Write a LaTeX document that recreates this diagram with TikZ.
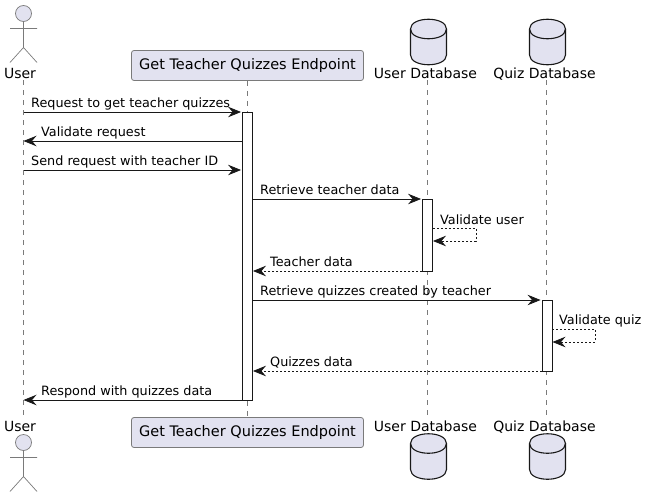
\documentclass[tikz,border=0pt]{standalone}
\usepackage{fontspec}
\setmainfont{DejaVu Sans}
\usetikzlibrary{arrows.meta}
\definecolor{pfill}{HTML}{E2E2F0}
\definecolor{pline}{HTML}{181818}
\definecolor{gline}{HTML}{7A7A7A}
\tikzset{
  x=1pt,y=-1pt,
  actorline/.style={draw=gline,fill=pfill,line width=0.7pt},
  dbline/.style={draw=pline,fill=pfill,line width=1.1pt},
  partbox/.style={draw=gline,fill=pfill,rounded corners=2.5pt,line width=0.8pt,minimum width=232pt,minimum height=30pt,inner sep=0pt,font=\fontsize{14.5}{16}\selectfont},
  head/.style={inner sep=0pt,font=\fontsize{14}{16}\selectfont,anchor=base},
  life/.style={draw=gline,line width=0.7pt,dash pattern=on 5pt off 5pt},
  bar/.style={draw=pline,fill=white,line width=0.9pt,minimum width=10pt,inner sep=0pt},
  msgtext/.style={inner sep=0pt,font=\fontsize{12.8}{15}\selectfont,anchor=base west,text=black},
  msg/.style={draw=pline,line width=0.8pt,-{Stealth[length=13pt,width=10.5pt,inset=4.5pt]}},
  ret/.style={msg,dash pattern=on 2pt off 2pt},
  gap/.style={shorten >=1pt},
}
\newcommand{\actorfig}[1]{%
  \draw[actorline] (23.5,#1+8) circle (8);
  \draw[actorline,fill=none] (23.5,#1+16) -- (23.5,#1+42) (10,#1+23) -- (37,#1+23) (10,#1+57) -- (23.5,#1+42) -- (37,#1+57);
}
\newcommand{\dbfig}[2]{%
  \draw[dbline] (#1-18,#2+10) .. controls (#1-18,#2-3) and (#1+18,#2-3) .. (#1+18,#2+10)
    -- (#1+18,#2+36) .. controls (#1+18,#2+49) and (#1-18,#2+49) .. (#1-18,#2+36) -- cycle;
  \draw[dbline,fill=none] (#1-18,#2+10) .. controls (#1-18,#2+23) and (#1+18,#2+23) .. (#1+18,#2+10);
}
\begin{document}
\begin{tikzpicture}
\useasboundingbox (0,0) rectangle (647,498);
% lifeline ends
\coordinate (ut) at (23.5,80);  \coordinate (ub) at (23.5,416);
\coordinate (dt) at (427.5,80); \coordinate (db) at (427.5,416);
\coordinate (qt) at (546.5,80); \coordinate (qb) at (546.5,416);
\node[partbox] (ept) at (247.5,65.5) {Get Teacher Quizzes Endpoint};
\node[partbox] (epb) at (247.5,432.5) {Get Teacher Quizzes Endpoint};
\draw[life] (ut) -- (ub);
\draw[life] (ept) -- (epb);
\draw[life] (dt) -- (db);
\draw[life] (qt) -- (qb);
% actors and databases
\actorfig{5.5}
\actorfig{434.5}
\dbfig{428.5}{19}
\dbfig{547.5}{19}
\dbfig{428.5}{433.5}
\dbfig{547.5}{433.5}
\node[head] (uh) at (20,78) {User};
\node[head] (uf) at (20,431) {User};
\node[head] (dh) at (425.5,78) {User Database};
\node[head] (df) at (425.5,431) {User Database};
\node[head] (qh) at (544.5,78) {Quiz Database};
\node[head] (qf) at (544.5,431) {Quiz Database};
% activation bars
\node[bar,minimum height=288pt] (ae) at (247.5,256) {};
\node[bar,minimum height=72pt] (ad) at (427.5,235) {};
\node[bar,minimum height=71pt] (aq) at (547,335.5) {};
% message rows
\foreach \n/\y in {1/112,2/141,3/170,4/199,5/228,6/241,7/271,8/300,9/329,10/342,11/371,12/400}{\coordinate (y\n) at (0,\y);}
\coordinate (lu) at (476,228);
\coordinate (lq) at (595,329);
% messages
\draw[msg,gap] (ut |- y1) -- (ae.west |- y1);
\draw[msg] (ae.west |- y2) -- (ut |- y2);
\draw[msg,gap] (ut |- y3) -- (ae.west |- y3);
\draw[msg,gap] (ae.east |- y4) -- (ad.west |- y4);
\draw[ret] (ad.east |- y5) -- (lu) -- (lu |- y6) -- (ad.east |- y6);
\draw[ret] (ad.west |- y7) -- (ae.east |- y7);
\draw[msg,gap] (ae.east |- y8) -- (aq.west |- y8);
\draw[ret] (aq.east |- y9) -- (lq) -- (lq |- y10) -- (aq.east |- y10);
\draw[ret] (aq.west |- y11) -- (ae.east |- y11);
\draw[msg] (ae.west |- y12) -- (ub |- y12);
% labels
\node[msgtext] (m1) at (31,107) {Request to get teacher quizzes};
\node[msgtext] (m2) at (41,136) {Validate request};
\node[msgtext] (m3) at (31,165) {Send request with teacher ID};
\node[msgtext] (m4) at (260,194) {Retrieve teacher data};
\node[msgtext] (m5) at (440,224) {Validate user};
\node[msgtext] (m6) at (270,266) {Teacher data};
\node[msgtext] (m7) at (260,295) {Retrieve quizzes created by teacher};
\node[msgtext] (m8) at (559,324) {Validate quiz};
\node[msgtext] (m9) at (270,366) {Quizzes data};
\node[msgtext] (m10) at (41,395) {Respond with quizzes data};
\end{tikzpicture}
\end{document}
